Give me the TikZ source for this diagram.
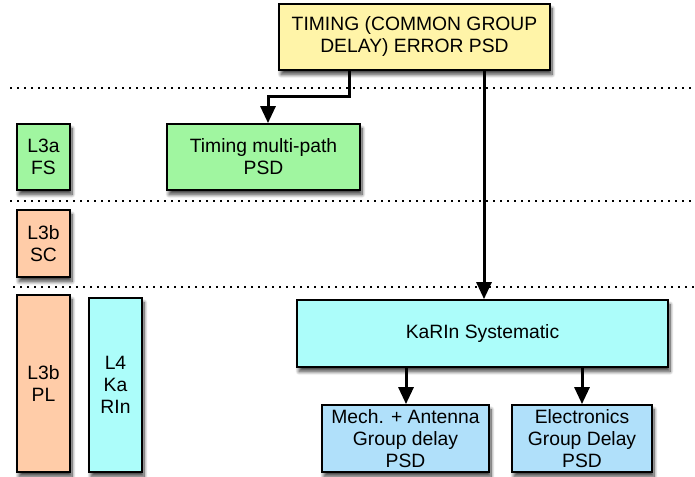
\documentclass[tikz,border=0pt]{standalone}
\usepackage{fontspec}
\setmainfont{Liberation Sans}
\usetikzlibrary{arrows.meta,shadows.blur}
\definecolor{boxyellow}{RGB}{255,244,168}
\definecolor{boxgreen}{RGB}{160,246,160}
\definecolor{boxpeach}{RGB}{255,204,168}
\definecolor{boxcyan}{RGB}{172,253,250}
\definecolor{boxblue}{RGB}{176,224,250}
\tikzset{
  block/.style={draw=black, line width=1.8pt, inner sep=0pt, align=center,
    font=\fontsize{19.3}{22}\selectfont,
    blur shadow={shadow xshift=2pt, shadow yshift=-4.5pt, shadow blur radius=3.5pt,
      shadow blur steps=10, shadow opacity=75}},
  flow/.style={line width=3pt, -{Triangle[length=17pt,width=15pt]}},
  level/.style={line width=1.3pt, dash pattern=on 1.5pt off 5.5pt}
}
\begin{document}
\begin{tikzpicture}[x=1pt,y=-1pt]
\useasboundingbox (0,0) rectangle (695,476);
% level separators
\draw[level] (10,88) -- (695,88);
\draw[level] (10,201) -- (695,201);
\draw[level] (13,287) -- (695,287);
% blocks
\node[block, fill=boxyellow, minimum width=271pt, minimum height=66pt] (top) at (414.5,37)
  {TIMING (COMMON GROUP\\DELAY) ERROR PSD};
\node[block, fill=boxgreen, minimum width=193pt, minimum height=66pt] (tmp) at (263.5,157)
  {Timing multi-path\\PSD};
\node[block, fill=boxgreen, minimum width=53pt, minimum height=66pt] (l3a) at (43.5,157)
  {L3a\\FS};
\node[block, fill=boxpeach, minimum width=53pt, minimum height=67pt] (l3bsc) at (43.5,243.5)
  {L3b\\SC};
\node[block, fill=boxpeach, minimum width=53pt, minimum height=177pt] (l3bpl) at (43.5,383.5)
  {L3b\\PL};
\node[block, fill=boxcyan, minimum width=53pt, minimum height=174pt] (l4) at (115.5,385)
  {L4\\Ka\\RIn};
\node[block, fill=boxcyan, minimum width=371pt, minimum height=67pt] (karin) at (482.5,333.5)
  {KaRIn Systematic};
\node[block, fill=boxblue, minimum width=167pt, minimum height=67pt] (mech) at (405.5,438.5)
  {Mech. + Antenna\\Group delay\\PSD};
\node[block, fill=boxblue, minimum width=140pt, minimum height=67pt] (elec) at (582,438.5)
  {Electronics\\Group Delay\\PSD};
% connectors
\coordinate (bend) at (268,97);
\draw[flow] ([xshift=-65.5pt]top.south) |- (bend) -- (bend |- tmp.north);
\draw[flow] ([xshift=69.5pt]top.south) coordinate (tk) -- (tk |- karin.north);
\draw[flow] ([xshift=-76.5pt]karin.south) coordinate (k1) -- (k1 |- mech.north);
\draw[flow] ([xshift=99.5pt]karin.south) coordinate (k2) -- (k2 |- elec.north);
\end{tikzpicture}
\end{document}
